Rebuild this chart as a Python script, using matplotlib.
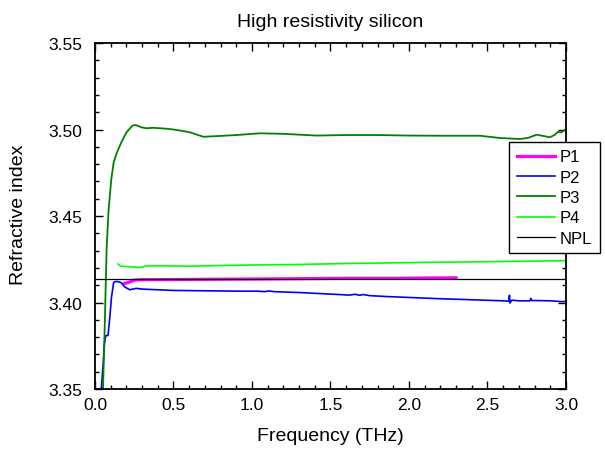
import matplotlib
matplotlib.use("Agg")
import matplotlib.pyplot as plt
from matplotlib.ticker import MultipleLocator

plt.rcParams['font.family'] = ['Liberation Sans', 'DejaVu Sans']

# P1 (magenta)
p1_f = [0.189, 0.21, 0.253, 0.3, 0.5, 0.8, 1.0, 1.3, 1.6, 1.9, 2.1, 2.3]
p1_n = [3.4111, 3.4115, 3.4130, 3.4132, 3.4133, 3.4135, 3.4136, 3.4138,
        3.4140, 3.4140, 3.4142, 3.4143]

# P2 (blue)
p2_f = [0.040, 0.050, 0.060, 0.068, 0.083, 0.095, 0.105, 0.119, 0.134, 0.150,
        0.166, 0.190, 0.221, 0.263, 0.30, 0.37, 0.5, 0.7, 0.9, 1.03, 1.08,
        1.11, 1.14, 1.3, 1.54, 1.62, 1.66, 1.68, 1.71, 1.75, 1.85, 1.985, 2.2,
        2.47, 2.60, 2.635, 2.640, 2.643, 2.655, 2.70, 2.770, 2.776, 2.782,
        2.9, 2.98, 3.0]
p2_n = [3.350, 3.362, 3.376, 3.3808, 3.381, 3.392, 3.403, 3.4117, 3.4122,
        3.4120, 3.4115, 3.409, 3.4074, 3.4082, 3.4078, 3.4075, 3.4070, 3.4068,
        3.4066, 3.4066, 3.4063, 3.4067, 3.4063, 3.4058, 3.4047, 3.4043,
        3.4048, 3.4042, 3.4046, 3.4040, 3.4035, 3.4030, 3.4022, 3.4014,
        3.4010, 3.4008, 3.4042, 3.3997, 3.4014, 3.4010, 3.4010, 3.4024,
        3.4012, 3.4010, 3.4005, 3.4008]

# P3 (dark green)
p3_f = [0.045, 0.051, 0.060, 0.074, 0.087, 0.104, 0.119, 0.140, 0.168, 0.200,
        0.238, 0.259, 0.295, 0.327, 0.37, 0.45, 0.5, 0.6, 0.69, 0.8, 0.9,
        1.05, 1.2, 1.41, 1.6, 1.8, 2.0, 2.2, 2.452, 2.58, 2.707, 2.76, 2.813,
        2.86, 2.898, 2.93, 2.949, 2.97, 2.994, 3.0]
p3_n = [3.340, 3.350, 3.379, 3.4309, 3.454, 3.4714, 3.481, 3.4868, 3.4926,
        3.4983, 3.5022, 3.5026, 3.5013, 3.5007, 3.5010, 3.5005, 3.5000,
        3.4985, 3.4958, 3.4963, 3.4968, 3.4978, 3.4975, 3.4965, 3.4968,
        3.4968, 3.4965, 3.4964, 3.4964, 3.4951, 3.4945, 3.4952, 3.4970,
        3.4962, 3.4955, 3.4970, 3.4987, 3.4983, 3.4999, 3.4995]

# P4 (light green)
p4_f = [0.147, 0.16, 0.178, 0.22, 0.27, 0.29, 0.33, 0.45, 0.6, 0.8, 1.0, 1.3,
        1.56, 1.8, 2.1, 2.4, 2.7, 3.0]
p4_n = [3.4223, 3.4212, 3.4209, 3.4207, 3.4203, 3.4203, 3.4212, 3.4212,
        3.4210, 3.4214, 3.4217, 3.4220, 3.4225, 3.4228, 3.4232, 3.4235,
        3.4238, 3.4242]

# NPL reference value
npl_f = [0.0, 3.0]
npl_n = [3.4137, 3.4137]

fig = plt.figure(figsize=(6.05, 4.52), dpi=100)
ax = fig.add_axes([0.157, 0.137, 0.7785, 0.7657])

ax.plot(p1_f, p1_n, color='#ff00ff', lw=2.3, label='P1')
ax.plot(p2_f, p2_n, color='#0000ff', lw=1.2, label='P2')
ax.plot(p3_f, p3_n, color='#008000', lw=1.3, label='P3')
ax.plot(p4_f, p4_n, color='#00ff00', lw=1.2, label='P4')
ax.plot(npl_f, npl_n, color='black', lw=0.9, label='NPL')

ax.set_xlim(0, 3.0)
ax.set_ylim(3.35, 3.55)
ax.xaxis.set_major_locator(MultipleLocator(0.5))
ax.xaxis.set_minor_locator(MultipleLocator(0.1))
ax.yaxis.set_major_locator(MultipleLocator(0.05))
ax.yaxis.set_minor_locator(MultipleLocator(0.01))
ax.xaxis.set_major_formatter(plt.FormatStrFormatter('%.1f'))
ax.yaxis.set_major_formatter(plt.FormatStrFormatter('%.2f'))
ax.tick_params(which='both', direction='in', top=True, right=True,
               labelsize=12.5, width=1.0)
ax.tick_params(which='major', length=6)
ax.tick_params(which='minor', length=3)
ax.tick_params(axis='x', which='major', pad=5.5)
ax.tick_params(axis='y', which='major', pad=9)
for s in ax.spines.values():
    s.set_linewidth(1.3)

ax.set_xlabel('Frequency (THz)', fontsize=14)
ax.xaxis.set_label_coords(0.5, -0.11)
ax.set_ylabel('Refractive index', fontsize=14)
ax.yaxis.set_label_coords(-0.144, 0.506)
ax.set_title('High resistivity silicon', fontsize=14, pad=12.4)

leg = ax.legend(loc='upper right', bbox_to_anchor=(1.072, 0.714),
                borderaxespad=0, fontsize=12, fancybox=False, framealpha=1,
                edgecolor='black', handlelength=2.3, handletextpad=0.3,
                labelspacing=0.32, borderpad=0.45)
leg.get_frame().set_linewidth(1.0)

fig.savefig('out.png', dpi=100)
